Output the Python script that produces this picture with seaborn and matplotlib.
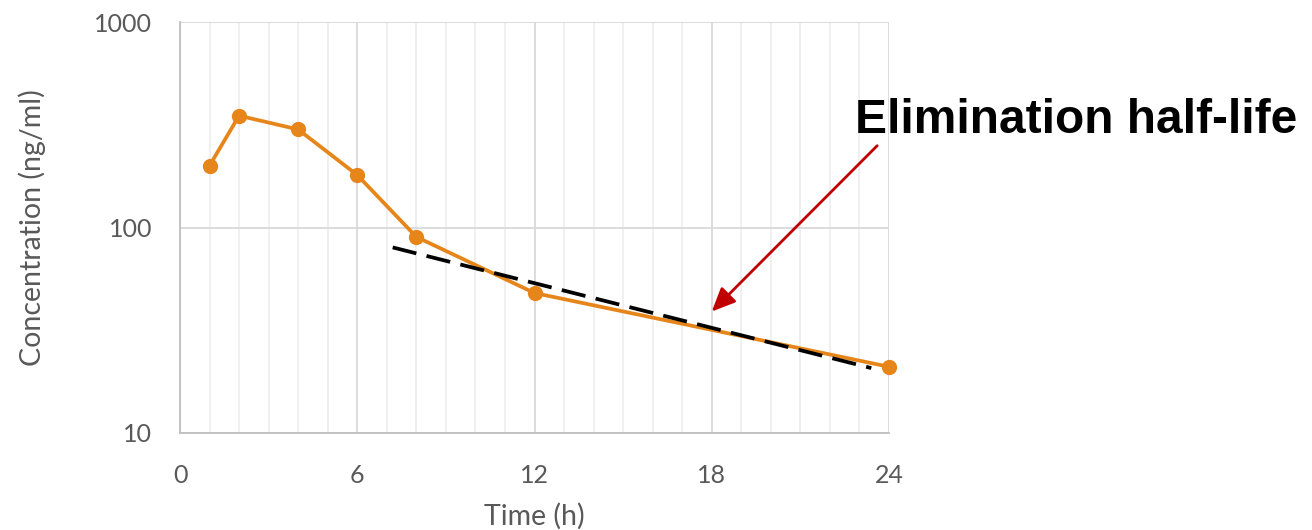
import matplotlib
matplotlib.use("Agg")
import matplotlib.pyplot as plt
import matplotlib.ticker as mticker
import seaborn as sns
import pandas as pd

# Plasma concentration measurements
time_h = [1, 2, 4, 6, 8, 12, 24]
conc_ng_ml = [200, 350, 300, 180, 90, 48, 21]

# Log-linear elimination phase fit (terminal slope)
trend_time_h = [7.2, 23.4]
trend_conc = [80, 20.7]

x_ticks = [0, 6, 12, 18, 24]
y_ticks = [10, 100, 1000]
y_tick_labels = ["10", "100", "1000"]

sns.set_theme(style="white")
plt.rcParams["font.family"] = ["Lato", "DejaVu Sans"]

fig = plt.figure(figsize=(13.12, 5.30), dpi=100)
ax = fig.add_axes([180 / 1312, 97 / 530, 709 / 1312, 411 / 530])

data = pd.DataFrame({"Time": time_h, "Conc": conc_ng_ml})
trend = pd.DataFrame({"Time": trend_time_h, "Conc": trend_conc})

orange = "#E6861A"
sns.lineplot(data=data, x="Time", y="Conc", ax=ax, color=orange, lw=2.7,
             marker="o", markersize=11, markeredgewidth=0, zorder=3,
             clip_on=False)
sns.lineplot(data=trend, x="Time", y="Conc", ax=ax, color="black", lw=2.7,
             zorder=4)
ax.lines[-1].set_dashes([6.5, 2.8])

ax.set_yscale("log")
ax.set_xlim(0, 24)
ax.set_ylim(10, 1000)

ax.set_xticks(x_ticks)
ax.set_xticks(range(0, 25), minor=True)
ax.set_yticks(y_ticks)
ax.set_yticklabels(y_tick_labels)
ax.yaxis.set_minor_locator(mticker.NullLocator())

ax.grid(True, which="major", axis="both", color="#d9d9d9", lw=1.3, zorder=0)
ax.grid(True, which="minor", axis="x", color="#efefef", lw=1.3, zorder=0)
ax.set_axisbelow(True)

for side in ("top", "right"):
    ax.spines[side].set_visible(False)
for side in ("left", "bottom"):
    ax.spines[side].set_color("#bfbfbf")
    ax.spines[side].set_linewidth(1.3)

ax.tick_params(axis="both", which="both", length=0, labelsize=18,
               labelcolor="#595959")
ax.tick_params(axis="x", pad=22)
ax.tick_params(axis="y", pad=20)

ax.set_xlabel("Time (h)", fontsize=20.5, color="#595959", labelpad=12)
ax.set_ylabel("Concentration (ng/ml)", fontsize=20.5, color="#595959",
              labelpad=35)

ax.annotate("", xy=(18, 39), xytext=(23.6, 250), xycoords="data",
            textcoords="data", annotation_clip=False,
            arrowprops=dict(arrowstyle="-|>,head_length=0.9,head_width=0.4",
                            mutation_scale=16, lw=2, color="#C00000",
                            shrinkA=0, shrinkB=0))

fig.text(855 / 1312, (530 - 133) / 530, "Elimination half-life",
         fontsize=34.5, fontweight="bold", color="black",
         family=["Liberation Sans", "DejaVu Sans"], va="baseline", ha="left")

fig.savefig("out.png", dpi=100, facecolor="white")
